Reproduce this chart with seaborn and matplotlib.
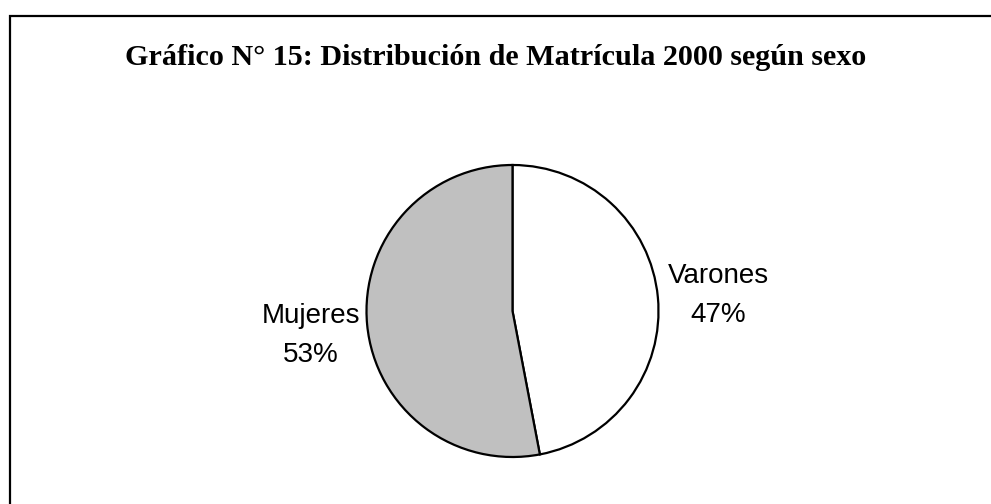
import matplotlib
matplotlib.use("Agg")
import matplotlib.pyplot as plt
import seaborn as sns
from matplotlib.patches import Rectangle

categories = ["Varones", "Mujeres"]
shares = [47, 53]
colors = ["#FFFFFF", "#C0C0C0"]
title = "Gráfico N° 15: Distribución de Matrícula 2000 según sexo"

sns.set_theme(style="white")
plt.rcParams['font.family'] = ['Liberation Sans', 'DejaVu Sans']

W, H = 991, 504
fig = plt.figure(figsize=(W / 100, H / 100), dpi=100)
fig.patch.set_facecolor("white")

cx, cy, r = 512.5, 311, 146
ax = fig.add_axes([(cx - r) / W, (H - cy - r) / H, 2 * r / W, 2 * r / H])
ax.pie(shares, colors=colors, startangle=90, counterclock=False, radius=1,
       wedgeprops=dict(edgecolor="black", linewidth=1.6))
ax.set_xlim(-1, 1)
ax.set_ylim(-1, 1)
ax.set_aspect("equal")
ax.axis("off")

# labels (each line placed by baseline)
def label(x, y_base, name, pct):
    fig.text(x / W, 1 - y_base / H, name, ha="center", va="baseline",
             fontsize=20, color="black")
    fig.text(x / W, 1 - (y_base + 39) / H, f"{pct}%", ha="center", va="baseline",
             fontsize=20, color="black")

label(718, 283, categories[0], shares[0])
label(311, 323, categories[1], shares[1])

fig.text(496 / W, 1 - 65 / H, title, ha="center", va="baseline", fontsize=21.7,
         fontweight="bold", family=["Liberation Serif", "DejaVu Serif"], color="black")

border = Rectangle((9.5 / W, -0.2), 1.2, 1 - 16.5 / H + 0.2, transform=fig.transFigure,
                   fill=False, edgecolor="black", linewidth=1.6)
fig.patches.append(border)

fig.savefig("out.png", dpi=100, facecolor="white")
